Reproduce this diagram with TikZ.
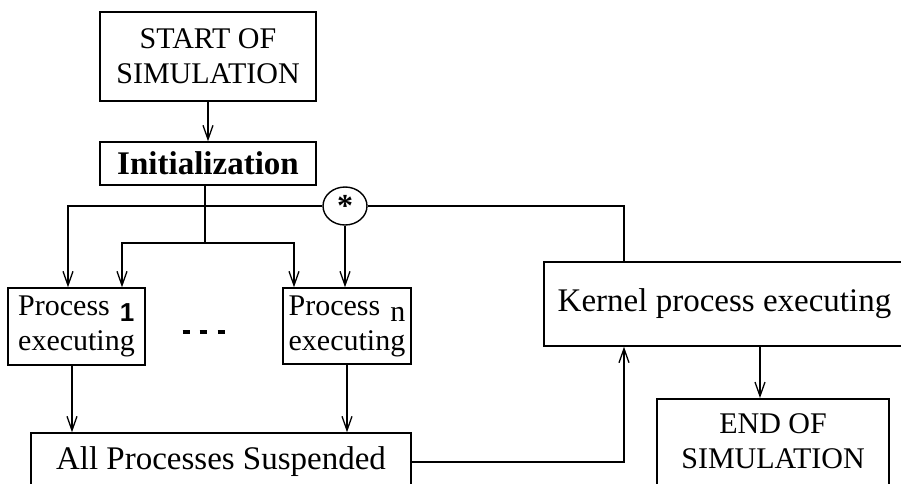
\documentclass[tikz,border=0pt]{standalone}
\usepackage{fontspec}
\setmainfont{Liberation Serif}
\newfontfamily\sansone{Liberation Sans}
\usetikzlibrary{arrows.meta,shapes.geometric}
\tikzset{
  box/.style={draw, line width=1.5pt, inner sep=0pt, align=center},
  arr/.style={-{Straight Barb[length=14pt,width=10pt,line width=1.3pt]}},
  conn/.style={line width=1.4pt},
  big/.style={font=\fontsize{33}{38}\selectfont},
  mid/.style={font=\fontsize{30}{35}\selectfont},
}
\begin{document}
\begin{tikzpicture}[x=1pt,y=-1pt]
\useasboundingbox (0,0) rectangle (901,483);
\clip (0,0) rectangle (901,483);
\fill[white] (0,0) rectangle (901,483);

\node[box,mid,minimum width=216,minimum height=89] (start) at (208,56.5) {START OF\\SIMULATION};
\node[box,big,minimum width=216,minimum height=43] (init) at (208,163.5) {\textbf{Initialization}};
\node[box,mid,minimum width=137,minimum height=77,align=left] (p1) at (76.5,326.5)
  {Process\,\,{\sansone\bfseries\fontsize{26}{26}\selectfont\raisebox{-6pt}{1}}\\executing};
\node[box,mid,minimum width=128,minimum height=76,align=left] (pn) at (347,326)
  {Process\,\,\raisebox{-6pt}{n}\\executing};
\node[box,big,minimum width=380,minimum height=58] (all) at (221,462) {All Processes Suspended};
\node[box,big,minimum width=361,minimum height=84] (kernel) at (724.5,304) {Kernel process executing};
\node[box,mid,minimum width=232,anchor=north,inner ysep=15pt] (end) at (773,398)
  {END OF\\SIMULATION\rule[-40pt]{0pt}{40pt}};
\node[draw,line width=1.4pt,ellipse,minimum width=44,minimum height=38,inner sep=0pt,
      font=\fontsize{32}{32}\selectfont\bfseries] (star) at (345,206) {\raisebox{-10pt}{*}};

% dots
\foreach \x in {186,203,221} \draw[line width=3.5pt] (\x-3.5,332) -- (\x+3.5,332);

% connectors
\draw[conn,arr] (start.south) -- (init.north);
\coordinate (j1) at (205,243);
\draw[conn] (init.south -| j1) -- (j1);
\draw[conn,arr] (j1) -| ([xshift=45.5]p1.north);
\draw[conn,arr] (j1) -| ([xshift=-53]pn.north);
\draw[conn] ([xshift=-100.5]kernel.north) |- (star.east);
\draw[conn,arr] (star.west) -| ([xshift=-8.5]p1.north);
\draw[conn,arr] (star.south) -- (star.south |- pn.north);
\draw[conn,arr] ([xshift=-4.5]p1.south) -- ([xshift=-4.5]p1.south |- all.north);
\draw[conn,arr] (pn.south) -- (pn.south |- all.north);
\draw[conn,arr] (all.east) -| ([xshift=-100.5]kernel.south);
\draw[conn,arr] ([xshift=35.5]kernel.south) -- ([xshift=35.5]kernel.south |- end.north);
\end{tikzpicture}
\end{document}
